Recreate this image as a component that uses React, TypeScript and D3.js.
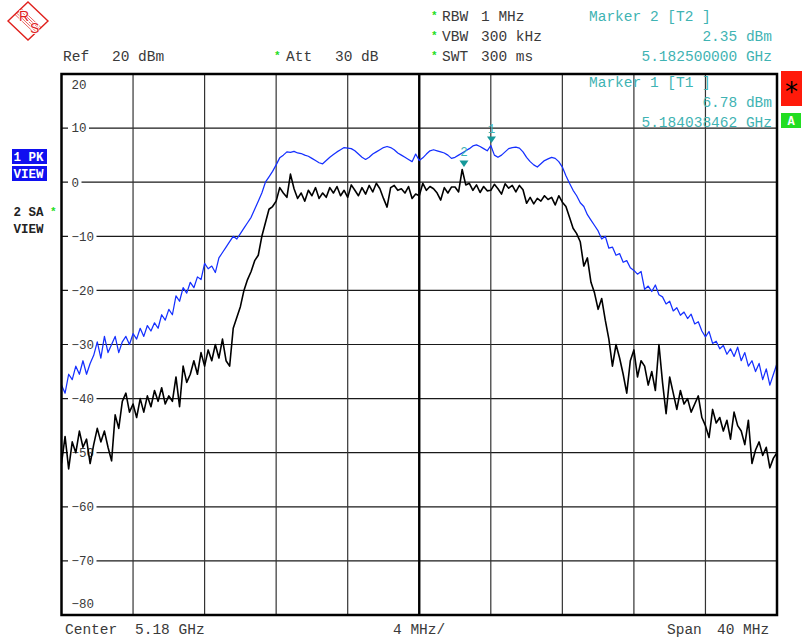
import React from "react";
import * as d3 from "d3";

// Sweep: 5.16 GHz .. 5.20 GHz, 201 points, offsets in MHz from start
const spanMHz = 40;
const nPoints = 201;

// Trace 1 (PK, blue) in dBm
const peakTrace = [
  -37.5, -39, -35.5, -36.5, -34, -35.5, -33, -35.5, -33.5, -32,
  -29.5, -32.5, -28.5, -31.5, -30, -28.5, -31.5, -29.5, -28.5, -30,
  -28, -29, -27, -28.5, -26.5, -27.5, -26, -27, -24.5, -25.5,
  -23.5, -24.5, -21, -22, -19.5, -20.5, -18.5, -19.5, -17.5, -18,
  -15, -16, -15.5, -16.7, -14, -13, -12, -11, -10, -10.5,
  -9.5, -8.5, -7.5, -6.5, -5, -3.5, -2, 0, 1, 2,
  3.2, 4.5, 5, 5.6, 5.5, 5.7, 5.4, 5.3, 5, 4.8,
  4.4, 4, 3.6, 3.4, 4, 4.6, 5.1, 5.6, 6, 6.4,
  6.3, 6.2, 5.8, 5.2, 4.6, 4.2, 4.6, 5.2, 5.6, 6,
  6.4, 6.6, 6.4, 6, 5.4, 5, 4.6, 4.2, 3.8, 5.2,
  4, 4.5, 5.2, 5.8, 6, 5.8, 5.6, 5.4, 5, 4.4,
  4.6, 5, 5.4, 5.8, 6.2, 6.7, 6.9, 6.6, 6.2, 5.8,
  6.78, 5, 4.6, 5, 5.6, 6.2, 6.4, 6.5, 6.3, 5.6,
  4.6, 3.8, 3.2, 2.8, 3.4, 4, 4.3, 4.6, 4.4, 3.8,
  2.8, 1.2, -0.2, -1.5, -2.5, -3.8, -4.5, -6, -7, -8,
  -9, -10.5, -10, -12.2, -12, -13.5, -13.2, -14.8, -14.5, -15.8,
  -16.3, -17, -16.5, -19.8, -19.2, -20.2, -19, -20.8, -21.2, -22.5,
  -22, -23.8, -23.2, -24.6, -24, -25.2, -24.4, -26.2, -25.8, -27.5,
  -28.6, -27.6, -29.8, -29.4, -30.8, -30.2, -31.8, -30.8, -32.2, -30.5,
  -33, -31.5, -34, -33, -35, -33.5, -36.5, -34.5, -37.5, -35.5,
  -33.5,
];

// Trace 2 (SA, black) in dBm
const sampleTrace = [
  -52, -47, -53, -48, -50, -46, -49, -47.5, -52, -48.5,
  -45.5, -48, -46, -49, -51.5, -43, -45.5, -40.5, -39, -42.5,
  -41, -43.5, -40, -42.5, -39.5, -41.5, -38.5, -40.5, -38, -41,
  -39.5, -40.5, -36, -41.5, -34, -37, -35.5, -33, -35.5, -31.5,
  -34, -31, -33, -30, -32.5, -29, -33, -34, -27, -25,
  -23, -20, -18, -16.5, -14.5, -13.5, -10, -7.5, -5, -4.5,
  -3.5, -1, -2, -2.8, 1.5, -1.2, -3, -2, -3.5, -1.5,
  -2.5, -1, -3, -2, -2.8, -1, -2, -0.8, -2.5, -1.5,
  -2.8, -0.5, -1.5, -2.5, -1, -2.2, -0.6, -1.8, -0.2, -1.2,
  -3, -4.6, -1, -0.6, -1.5, -1.2, -2, -0.8, -3, -2.2,
  -2.5, -0.2, -1.5, -0.8, -1.2, -2, -3.3, -1, -2, -0.9,
  -0.9, -1.8, 2.35, -0.5, -0.2, -1.5, -0.5, -1.9, -0.8, -1.6,
  -1.5, -0.4, -1.2, -2.2, -0.3, -1.1, -0.6, -1.8, -0.6, -1.4,
  -3.9, -2.8, -4, -3, -3.5, -2.5, -3.2, -2.8, -4.2, -2.5,
  -3.7, -4.5, -6.5, -8.5, -9.5, -11, -15.5, -14, -18.5, -20.5,
  -23.5, -21.5, -25.5, -29, -34, -30, -32.5, -35.5, -39, -33,
  -31, -36, -33, -34, -37.5, -35, -38.5, -30, -37, -42.8,
  -36, -39, -42, -38.5, -41, -40, -42.5, -41, -39.5, -43.5,
  -45, -47.2, -42, -44.5, -43.5, -46, -44, -47.5, -42.5, -45,
  -46, -48.5, -44, -52, -49.5, -48, -50.5, -49, -52.8, -51,
  -50,
];

const yTicks = [20, 10, 0, -10, -20, -30, -40, -50, -60, -70, -80];
const xDivisions = [0, 4, 8, 12, 16, 20, 24, 28, 32, 36, 40];

const markerIds = ["1", "2"];
const markerFreqs = [24.038462, 22.5]; // MHz offset from 5.16 GHz
const markerLevels = [6.78, 2.35];

const FONT = "'Liberation Mono', 'Courier New', monospace";
const TEXT = "#3a3a3a";
const TEAL = "#3fb3b3";
const TEAL_DARK = "#16999a";
const GREEN = "#22dd22";
const BLUE_TRACE = "#1530ff";

export default function App() {
  const left = 61.5;
  const right = 777;
  const top = 74;
  const bottom = 615;

  const x = d3.scaleLinear().domain([0, spanMHz]).range([left, right]);
  const y = d3.scaleLinear().domain([-80, 20]).range([bottom, top]);

  const step = spanMHz / (nPoints - 1);
  const line = d3
    .line<number>()
    .x((_, i) => x(i * step))
    .y((d) => y(d));

  const hdr = 14.5;

  return (
    <svg
      width={802}
      height={641}
      style={{ position: "absolute", left: 0, top: 0, background: "#fff" }}
      fontFamily={FONT}
    >
      <defs>
        <clipPath id="plotClip">
          <rect x={left} y={top} width={right - left} height={bottom - top} />
        </clipPath>
      </defs>

      {/* R&S logo */}
      <g stroke="#e0201c" fill="none">
        <path d="M28,2 L48,21 L28,40 L8,21 Z" strokeWidth={1.4} />
        {[-3, -1.5, 0, 1.5, 3].map((o) => (
          <line key={o} x1={18 + o} y1={11.5 - o} x2={38 + o} y2={30.5 - o} strokeWidth={0.7} />
        ))}
      </g>
      <text x={19} y={21} fontSize={14} fill="#e0201c" fontFamily="'Liberation Sans', Arial, sans-serif" stroke="#fff" strokeWidth={1.5} paintOrder="stroke">R</text>
      <text x={30} y={33} fontSize={14} fill="#e0201c" fontFamily="'Liberation Sans', Arial, sans-serif" stroke="#fff" strokeWidth={1.5} paintOrder="stroke">S</text>

      {/* header texts */}
      <g fontSize={hdr} fill={TEXT}>
        <text x={63} y={61}>Ref</text>
        <text x={112} y={61}>20 dBm</text>
        <text x={286} y={61}>Att</text>
        <text x={335} y={61}>30 dB</text>
        <text x={442} y={21}>RBW</text>
        <text x={481} y={21}>1 MHz</text>
        <text x={442} y={41}>VBW</text>
        <text x={481} y={41}>300 kHz</text>
        <text x={442} y={61}>SWT</text>
        <text x={481} y={61}>300 ms</text>
      </g>
      <g fontSize={11} fill={GREEN} fontWeight="bold">
        <text x={274} y={59}>*</text>
        <text x={431} y={19}>*</text>
        <text x={431} y={39}>*</text>
        <text x={431} y={59}>*</text>
        <text x={50} y={215}>*</text>
      </g>
      <g fontSize={hdr} fill={TEAL}>
        <text x={589} y={21}>Marker 2 [T2 ]</text>
        <text x={772} y={41} textAnchor="end">2.35 dBm</text>
        <text x={772} y={61} textAnchor="end">5.182500000 GHz</text>
      </g>

      {/* grid */}
      <g>
        {yTicks.slice(1, -1).map((t) => (
          <line key={t} x1={left} x2={right} y1={y(t)} y2={y(t)} stroke="#1a1a1a" strokeWidth={1.2} />
        ))}
        {xDivisions.slice(1, -1).map((f) => (
          <line
            key={f}
            x1={x(f)}
            x2={x(f)}
            y1={top}
            y2={bottom}
            stroke={f === 20 ? "#000" : "#333"}
            strokeWidth={f === 20 ? 2.4 : 1.2}
          />
        ))}
      </g>

      {/* y labels */}
      <g fontSize={12.5} fill={TEXT}>
        {yTicks.map((t, i) => {
          const isTop = i === 0;
          const isBottom = i === yTicks.length - 1;
          const baseline = isTop ? y(t) + 15 : isBottom ? y(t) - 7 : y(t) + 4.3;
          const label = String(t);
          const w = label.length * 7.5;
          return (
            <g key={t}>
              {!isTop && !isBottom && (
                <rect x={68} y={y(t) - 5} width={w + 6} height={10} fill="#fff" />
              )}
              <text x={71.5} y={baseline}>
                {label.replace("-", "\u2212")}
              </text>
            </g>
          );
        })}
      </g>

      {/* traces */}
      <g clipPath="url(#plotClip)" fill="none" strokeLinejoin="round">
        <path d={line(sampleTrace) ?? ""} stroke="#000" strokeWidth={1.6} />
        <path d={line(peakTrace) ?? ""} stroke={BLUE_TRACE} strokeWidth={1.25} />
      </g>

      {/* markers */}
      {markerIds.map((id, i) => {
        const mx = x(markerFreqs[i]);
        const my = y(markerLevels[i]);
        return (
          <g key={id}>
            <path
              d={`M${mx - 4.5},${my - 9} L${mx + 4.5},${my - 9} L${mx},${my - 2.5} Z`}
              fill={TEAL_DARK}
            />
            <text x={mx} y={my - 13} textAnchor="middle" fontSize={12.5} fill={TEAL}>
              {id}
            </text>
          </g>
        );
      })}

      {/* marker 1 readout, inside plot */}
      <g fontSize={hdr} fill={TEAL}>
        <text x={589} y={87}>Marker 1 [T1 ]</text>
        <text x={772} y={107} textAnchor="end">6.78 dBm</text>
        <text x={772} y={127} textAnchor="end">5.184038462 GHz</text>
      </g>

      {/* frame */}
      <rect x={left} y={top} width={right - left} height={bottom - top} fill="none" stroke="#000" strokeWidth={2.5} />

      {/* left trace labels */}
      <rect x={12} y={149} width={35} height={15} fill="#1010f0" />
      <rect x={12} y={166} width={35} height={15} fill="#1010f0" />
      <g fontSize={12.5} fontWeight="bold">
        <text x={13.5} y={161} fill="#fff">1 PK</text>
        <text x={13.5} y={178} fill="#fff">VIEW</text>
        <text x={13.5} y={216} fill="#222">2 SA</text>
        <text x={13.5} y={233} fill="#222">VIEW</text>
      </g>

      {/* right status boxes */}
      <rect x={781} y={71} width={21} height={35} fill="#ff1a0a" />
      <text x={791.5} y={101} textAnchor="middle" fontSize={26} fill="#000" fontFamily="'DejaVu Sans', sans-serif">*</text>
      <rect x={781} y={113} width={20} height={15} fill={GREEN} />
      <text x={791} y={125} textAnchor="middle" fontSize={12} fontWeight="bold" fill="#fff">A</text>

      {/* bottom texts */}
      <g fontSize={hdr} fill={TEXT}>
        <text x={65} y={634}>Center</text>
        <text x={135} y={634}>5.18 GHz</text>
        <text x={393} y={634}>4 MHz/</text>
        <text x={667} y={634}>Span</text>
        <text x={717} y={634}>40 MHz</text>
      </g>
    </svg>
  );
}
